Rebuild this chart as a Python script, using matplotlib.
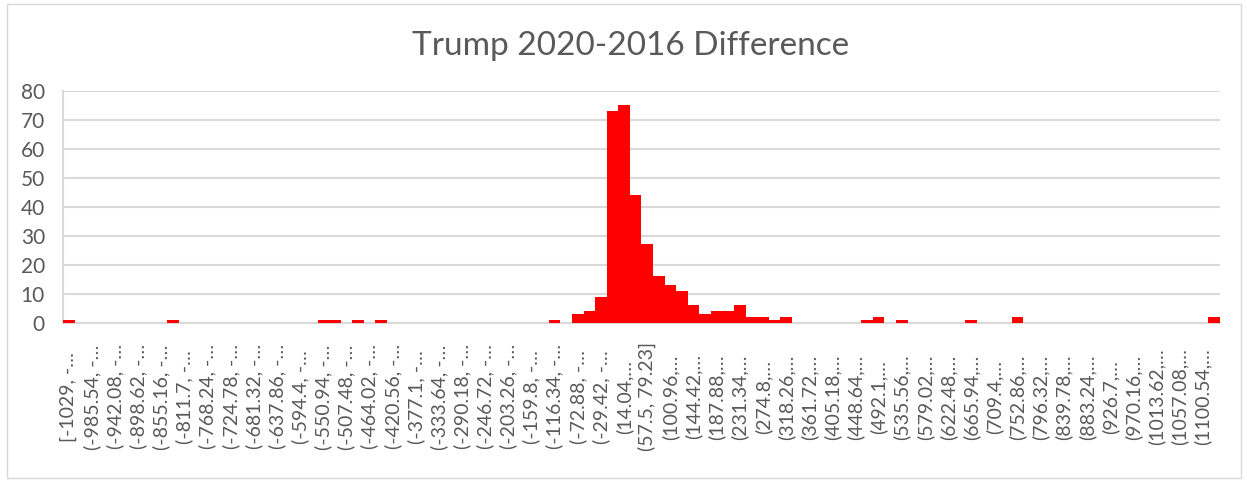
import matplotlib
matplotlib.use("Agg")
import matplotlib.pyplot as plt
from matplotlib.patches import Rectangle

# Histogram bins: 100 bins of width 21.73 starting at -1029
bin_start = -1029
bin_width = 21.73
counts = [
    1, 0, 0, 0, 0, 0, 0, 0, 0, 1,
    0, 0, 0, 0, 0, 0, 0, 0, 0, 0,
    0, 0, 1, 1, 0, 1, 0, 1, 0, 0,
    0, 0, 0, 0, 0, 0, 0, 0, 0, 0,
    0, 0, 1, 0, 3, 4, 9, 73, 75, 44,
    27, 16, 13, 11, 6, 3, 4, 4, 6, 2,
    2, 1, 2, 0, 0, 0, 0, 0, 0, 1,
    2, 0, 1, 0, 0, 0, 0, 0, 1, 0,
    0, 0, 2, 0, 0, 0, 0, 0, 0, 0,
    0, 0, 0, 0, 0, 0, 0, 0, 0, 2,
]

# Excel shows only every other bin label, truncated
bin_labels = [
    "[-1029, -…", "(-985.54, -…", "(-942.08, -…", "(-898.62, -…", "(-855.16, -…",
    "(-811.7, -…", "(-768.24, -…", "(-724.78, -…", "(-681.32, -…", "(-637.86, -…",
    "(-594.4, -…", "(-550.94, -…", "(-507.48, -…", "(-464.02, -…", "(-420.56, -…",
    "(-377.1, -…", "(-333.64, -…", "(-290.18, -…", "(-246.72, -…", "(-203.26, -…",
    "(-159.8, -…", "(-116.34, -…", "(-72.88, -…", "(-29.42, -…", "(14.04,…",
    "(57.5, 79.23]", "(100.96,…", "(144.42,…", "(187.88,…", "(231.34,…",
    "(274.8,…", "(318.26,…", "(361.72,…", "(405.18,…", "(448.64,…",
    "(492.1,…", "(535.56,…", "(579.02,…", "(622.48,…", "(665.94,…",
    "(709.4,…", "(752.86,…", "(796.32,…", "(839.78,…", "(883.24,…",
    "(926.7,…", "(970.16,…", "(1013.62,…", "(1057.08,…", "(1100.54,…",
]

title = "Trump 2020-2016 Difference"

text_color = "#595959"
grid_color = "#D9D9D9"
plt.rcParams["font.family"] = ["Lato", "DejaVu Sans"]

fig = plt.figure(figsize=(12.47, 4.82), dpi=100)
ax = fig.add_axes([0.0505, 0.3305, 0.9278, 0.4813])

left_edges = [bin_start + i * bin_width for i in range(len(counts))]
centers = [e + bin_width / 2 for e in left_edges]
ax.bar(left_edges, counts, width=bin_width, align="edge", color="#FF0000",
       linewidth=0, zorder=3)

ax.set_xlim(left_edges[0], left_edges[-1] + bin_width)
ax.set_ylim(0, 80)
ax.set_yticks(range(0, 81, 10))
ax.tick_params(axis="y", length=0, pad=13, labelsize=15, labelcolor=text_color)
ax.set_xticks([])
ax.grid(axis="y", color=grid_color, linewidth=1.5, zorder=0)

for s in ["top", "right"]:
    ax.spines[s].set_visible(False)
ax.spines["left"].set_color(grid_color)
ax.spines["bottom"].set_color(grid_color)
ax.spines["left"].set_linewidth(1.5)
ax.spines["bottom"].set_linewidth(1.5)

for i, lab in enumerate(bin_labels):
    ax.text(centers[2 * i], -0.32, lab, transform=ax.get_xaxis_transform(),
            rotation=90, ha="center", va="center", fontsize=14, color=text_color)

fig.text(0.506, 0.905, title, ha="center", va="center", fontsize=24,
         color=text_color)

fig.patches.append(Rectangle((0.006, 0.008), 0.989, 0.984, transform=fig.transFigure,
                             fill=False, edgecolor=grid_color, linewidth=1))

fig.savefig("out.png", dpi=100)
